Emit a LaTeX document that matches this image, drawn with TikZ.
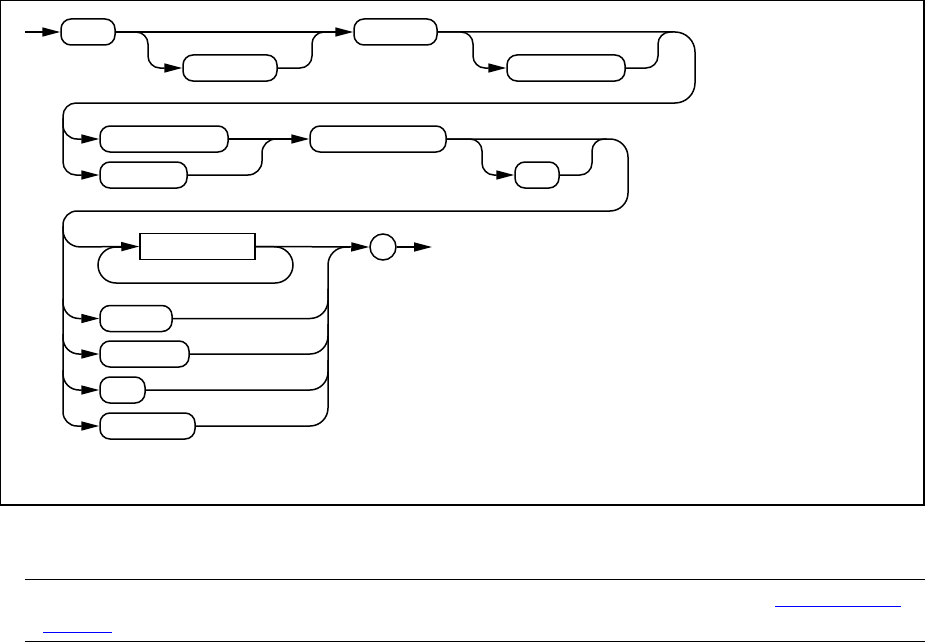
\documentclass[tikz,border=0pt]{standalone}
\usetikzlibrary{arrows.meta}

\begin{document}
\begin{tikzpicture}[x=1pt, y=-1pt,
    term/.style={draw, line width=1.5pt, rounded corners=10pt,
      minimum height=26pt, inner sep=0pt},
    nonterm/.style={draw, line width=1.5pt, minimum height=26pt,
      inner sep=0pt},
    endmark/.style={draw, circle, line width=1.5pt, minimum size=26pt,
      inner sep=0pt},
    rail/.style={line width=1.5pt, rounded corners=12pt},
    arrow/.style={rail, -{Triangle[length=18pt,width=9pt]}}
  ]
    \useasboundingbox (0,0) rectangle (925,642);
    \draw[line width=1.2pt] (0.6,0.6) rectangle (924,505);

    % row 1
    \coordinate (in) at (25,32);
    \node[term, minimum width=54pt]  (T1) at (88,32) {};
    \node[term, minimum width=83pt]  (T2) at (395.5,32) {};
    \node[term, minimum width=94pt]  (T3) at (230,68) {};
    \node[term, minimum width=118pt] (T4) at (566,68) {};
    \draw[arrow] (in) -- (T1.west);
    \draw[arrow] (T1.east) -- (T2.west);
    \draw[arrow] (T1.east) -- (148,32) -- (148,68) -- (T3.west);
    \draw[rail] (T3.east) -- (312,68) -- (312,32) -- (327,32);
    \draw[arrow] (T2.east) -- (473,32) -- (473,68) -- (T4.west);
    \draw[rail] (T4.east) -- (658,68) -- (658,32) -- (673,32);
    \coordinate (loop1) at (400,103);
    \draw[rail, rounded corners=20pt] (T2.east) -- (695,32) -- (695,103) -- (loop1);

    % row 2
    \node[term, minimum width=128pt] (T5) at (164,139) {};
    \node[term, minimum width=87pt]  (T6) at (143.5,175) {};
    \node[term, minimum width=136pt] (T7) at (378,139) {};
    \node[term, minimum width=44pt]  (T8) at (537,175) {};
    \draw[arrow, rounded corners=13pt] (loop1) -- (63,103) -- (63,175) -- (T6.west);
    \draw[arrow, rounded corners=14pt] (63,118) -- (63,139) -- (T5.west);
    \draw[arrow] (T5.east) -- (T7.west);
    \draw[rail, rounded corners=14pt] (T6.east) -- (262,175) -- (262,139) -- (280,139);
    \draw[arrow] (T7.east) -- (482,139) -- (482,175) -- (T8.west);
    \draw[rail] (T8.east) -- (592,175) -- (592,139) -- (607,139);
    \coordinate (loop2) at (400,211);
    \draw[rail, rounded corners=18pt] (T7.east) -- (628,139) -- (628,211) -- (loop2);

    % row 3
    \node[nonterm, minimum width=115pt] (B1) at (197.5,246.5) {};
    \node[endmark] (E) at (383,247) {};
    \node[term, minimum width=72pt] (T9)  at (136,318.5) {};
    \node[term, minimum width=89pt] (T10) at (144.5,354) {};
    \node[term, minimum width=45pt] (T11) at (122.5,390) {};
    \node[term, minimum width=95pt] (T12) at (147.5,426) {};
    \coordinate (out) at (432,247);
    \draw[arrow, rounded corners=14pt] (loop2) -- (63,211) -- (63,426) -- (T12.west);
    \draw[arrow, rounded corners=17pt] (63,226) -- (63,247) -- (B1.west);
    \draw[rail, rounded corners=18pt] (B1.east) -- (293,247) -- (293,283) -- (98,283)
      -- (98,247) -- (122,247);
    \draw[arrow] (B1.east) -- (E.west);
    \draw[arrow] (E.east) -- (out);
    \foreach \t/\y in {T9/318.5, T10/354, T11/390} {
      \draw[arrow, rounded corners=16pt] (63,\y-20) -- (63,\y) -- (\t.west);
      \draw[rail, rounded corners=18pt] (\t.east) -- (328,\y) -- (328,\y-30);
    }
    \draw[rail, rounded corners=18pt] (T12.east) -- (328,426) -- (328,247) -- (350,247);

    % footer rules
    \draw[line width=1pt] (25,579) -- (925,579);
    \draw[line width=1pt] (25,641) -- (925,641);
    \draw[blue, line width=1pt] (775,606) -- (901,606);
    \draw[blue, line width=1pt] (43,632) -- (112,632);
  \end{tikzpicture}
\end{document}
